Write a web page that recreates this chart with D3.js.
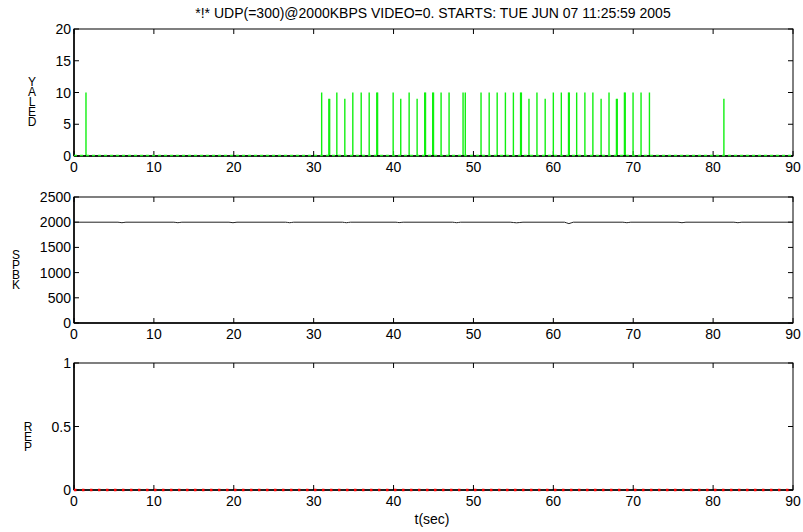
<!DOCTYPE html>
<html><head><meta charset="utf-8">
<script src="https://cdn.jsdelivr.net/npm/d3@7"></script>
<style>body{margin:0;background:#fff}svg{display:block}text{font-family:"Liberation Sans",Arial,sans-serif;fill:#000}</style>
</head><body><svg id="c" width="803" height="532"></svg>
<script>
const titleText = "*!* UDP(=300)@2000KBPS VIDEO=0. STARTS: TUE JUN 07 11:25:59 2005";
const xLabel = "t(sec)";
const xTicks = [0,10,20,30,40,50,60,70,80,90];
const delayTicks = [0,5,10,15,20];
const kbpsTicks = [0,500,1000,1500,2000,2500];
const perTicks = [0,0.5,1];
const yLabels = ["DELAY","KBPS","PER"];

// DELAY spikes (time, value)
const delayT = [1.5,31.0,31.9,32.0,32.9,33.9,34.9,35.95,36.95,37.9,38.0,39.95,40.9,41.95,42.95,43.9,44.0,44.9,45.0,45.95,46.95,48.7,48.98,50.95,51.97,52.97,54.0,55.0,55.9,56.0,56.95,57.95,58.98,60.0,61.0,61.9,62.0,62.92,63.95,64.95,65.98,66.97,67.9,68.0,68.9,69.0,69.98,70.98,72.03,81.35];
const delayV = [10,10,9,9,10,9,10,10,10,10,10,10,9,10,9,10,10,10,10,10,10,10,10,10,10,10,10,10,10,10,9,10,9,10,10,10,10,10,10,10,9,10,9,9,10,10,10,10,10,9];

// KBPS line (time, value)
const kbpsT = [0,5.5,6.0,6.5,12.5,13.0,13.5,19.4,19.9,20.4,26.5,27.0,27.5,33.6,34.1,34.6,40.3,40.7,41.2,47.4,47.9,48.4,54.6,55.4,56.2,61.4,61.95,62.5,68.7,69.2,69.7,75.6,76.1,76.6,82.6,83.1,83.6,90];
const kbpsV = [2000,2000,1990,2000,2000,1990,2000,2000,1990,2000,2000,1990,2000,2000,1990,2000,2000,1992,2000,2000,1990,2000,2000,1988,2000,2000,1972,2000,2000,1990,2000,2000,1990,2000,2000,1990,2000,2000];

// PER line (time, value)
const perT = [0,90];
const perV = [0,0];

const svg = d3.select("#c");
const L = 74, R = 793;
const FS = 14;
const panels = [
  {top:29, bottom:156, domain:[0,20], ticks:delayTicks},
  {top:197, bottom:323, domain:[0,2500], ticks:kbpsTicks},
  {top:363, bottom:490, domain:[0,1], ticks:perTicks}
];
const x = d3.scaleLinear().domain([0,90]).range([L,R]);

svg.append("text").attr("x",433).attr("y",18).attr("text-anchor","middle")
  .attr("font-size",FS).text(titleText);

const labelPos = [{x:32,y:86},{x:16,y:259},{x:28,y:431}];

panels.forEach((p,i)=>{
  const y = d3.scaleLinear().domain(p.domain).range([p.bottom,p.top]);
  p.y = y;
  const g = svg.append("g");
  const tl = 5;
  xTicks.forEach(t=>{
    g.append("line").attr("x1",x(t)).attr("x2",x(t)).attr("y1",p.bottom).attr("y2",p.bottom-tl).attr("stroke","#000");
    g.append("line").attr("x1",x(t)).attr("x2",x(t)).attr("y1",p.top).attr("y2",p.top+tl).attr("stroke","#000");
    g.append("text").attr("x",x(t)).attr("y",p.bottom+16).attr("text-anchor","middle").attr("font-size",FS).text(t);
  });
  p.ticks.forEach(t=>{
    g.append("line").attr("x1",L).attr("x2",L+tl).attr("y1",y(t)).attr("y2",y(t)).attr("stroke","#000");
    g.append("line").attr("x1",R).attr("x2",R-tl).attr("y1",y(t)).attr("y2",y(t)).attr("stroke","#000");
    g.append("text").attr("x",L-3).attr("y",y(t)+5).attr("text-anchor","end").attr("font-size",FS).text(t);
  });
  const letters = yLabels[i].split("").reverse();
  const lt = g.append("text").attr("x",labelPos[i].x).attr("y",labelPos[i].y)
    .attr("text-anchor","middle").attr("font-size",12);
  letters.forEach((ch,k)=>{
    lt.append("tspan").attr("x",labelPos[i].x).attr("dy",k===0?0:10).text(ch);
  });
});

// Panel 1: spikes
const p1 = panels[0];
const sp = svg.append("g");
delayT.forEach((t,k)=>{
  sp.append("line").attr("x1",x(t)).attr("x2",x(t)).attr("y1",p1.y(0)).attr("y2",p1.y(delayV[k]))
    .attr("stroke","#10f010").attr("stroke-width",1.4);
});

// Panel 2: line
const p2 = panels[1];
svg.append("path").datum(kbpsT.map((t,k)=>[t,kbpsV[k]]))
  .attr("d", d3.line().x(d=>x(d[0])).y(d=>p2.y(d[1])).curve(d3.curveMonotoneX))
  .attr("fill","none").attr("stroke","#222").attr("stroke-width",1);

const p3 = panels[2];

// boxes
panels.forEach(p=>{
  svg.append("rect").attr("x",L).attr("y",p.top).attr("width",R-L).attr("height",p.bottom-p.top)
    .attr("fill","none").attr("stroke","#000").attr("stroke-width",1);
  svg.append("line").attr("x1",L).attr("x2",R).attr("y1",p.bottom).attr("y2",p.bottom).attr("stroke","#000").attr("stroke-width",1.5);
  svg.append("line").attr("x1",L).attr("x2",L).attr("y1",p.top).attr("y2",p.bottom).attr("stroke","#000").attr("stroke-width",1.5);
});
// green dotted baseline in panel 1
svg.append("line").attr("x1",x(0)).attr("x2",x(90)).attr("y1",p1.y(0)-0.5).attr("y2",p1.y(0)-0.5)
  .attr("stroke","#22ee22").attr("stroke-width",1.5).attr("stroke-dasharray","3,3");
// red dotted PER line over axis
svg.append("path").datum(perT.map((t,k)=>[t,perV[k]]))
  .attr("d", d3.line().x(d=>x(d[0])).y(d=>p3.y(d[1])))
  .attr("fill","none").attr("stroke","#ff0000").attr("stroke-width",2.5).attr("stroke-dasharray","2.5,5.5");

svg.append("text").attr("x",432).attr("y",524).attr("text-anchor","middle").attr("font-size",FS).text(xLabel);
</script></body></html>
